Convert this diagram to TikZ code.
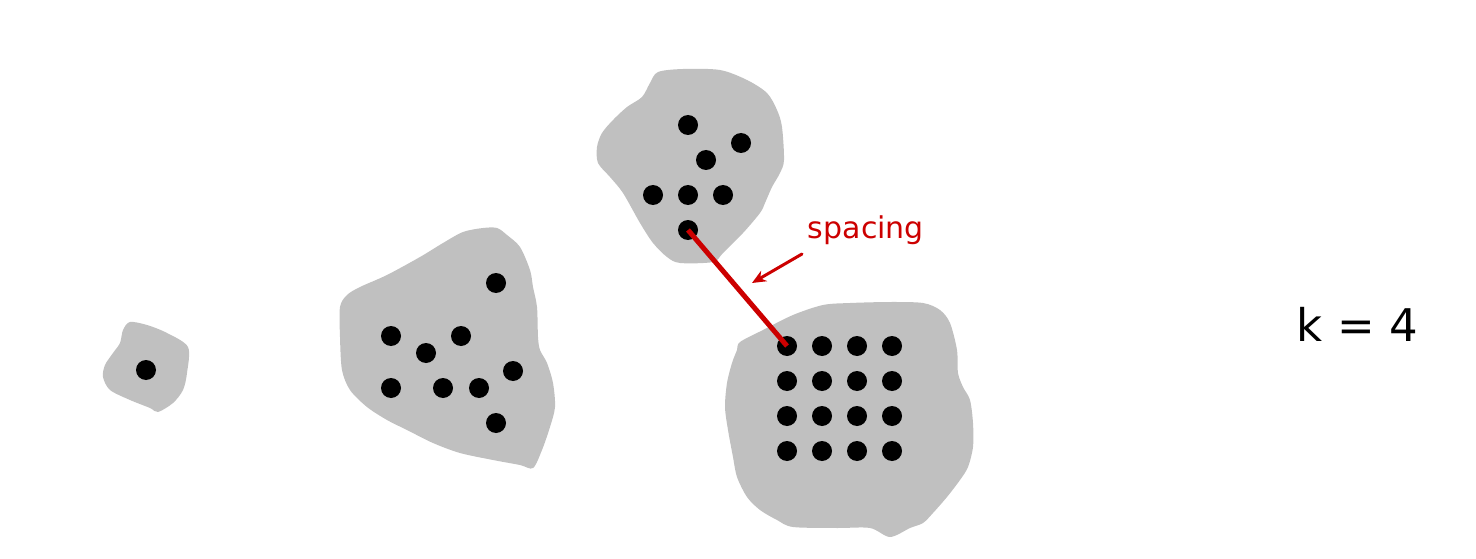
\documentclass[tikz,border=0pt]{standalone}
\usepackage{fontspec}
\setmainfont{DejaVu Sans}
\usetikzlibrary{arrows.meta}
\definecolor{blobgray}{RGB}{192,192,192}
\definecolor{spacered}{RGB}{204,0,0}
\tikzset{
	blob/.style={fill=blobgray},
	dot/.style={circle, fill=black, inner sep=0pt, minimum size=20pt},
}
\begin{document}
\begin{tikzpicture}[x=1pt, y=-1pt, line join=round, line cap=round, very thick]
			% Frame of the picture
			\useasboundingbox (0,0) rectangle (1476,559);
			
			% Grey regions (clusters), drawn first so the points sit on top
			\fill[blob] plot[smooth cycle, tension=0.5] coordinates {(130,322) (147,325) (167,333) (188,347) (187,373) (183,390) (173,403) (158,412) (150,408) (130,400) (110,390) (103,377) (105,365) (113,353) (120,343) (123,330)};
			\fill[blob] plot[smooth cycle, tension=0.5] coordinates {(483,228) (497,228) (507,235) (520,247) (530,270) (533,287) (537,307) (538,337) (540,350) (547,363) (553,383) (555,407) (550,427) (542,450) (533,468) (520,465) (493,460) (460,453) (433,443) (407,430) (387,420) (367,407) (350,390) (342,370) (340,337) (340,307) (347,295) (360,287) (387,275) (420,257) (443,243) (463,232)};
			\fill[blob] plot[smooth cycle, tension=0.5] coordinates {(658,72) (683,69) (720,70) (747,80) (767,93) (777,110) (782,127) (784,160) (780,173) (772,187) (765,203) (760,213) (743,233) (723,253) (713,262) (680,263) (667,257) (653,243) (640,223) (623,193) (610,177) (598,163) (597,147) (602,133) (613,120) (627,107) (642,97) (650,83)};
			\fill[blob] plot[smooth cycle, tension=0.5] coordinates {(740,342) (763,330) (793,315) (823,305) (850,303) (890,302) (923,303) (940,310) (950,323) (957,350) (958,373) (963,387) (970,400) (973,423) (973,447) (968,467) (960,480) (947,497) (933,513) (923,523) (910,528) (890,537) (870,528) (837,528) (793,527) (777,520) (760,510) (747,497) (737,477) (733,457) (728,430) (725,407) (727,383) (732,363) (737,350)};
			
			% Single point on the left
			\node[dot] (s1) at (146,370) {};
			
			% Scattered points
			\node[dot] (m1) at (496,283) {};
			\node[dot] (m2) at (391,336) {};
			\node[dot] (m3) at (461,336) {};
			\node[dot] (m4) at (426,353) {};
			\node[dot] (m5) at (513,371) {};
			\node[dot] (m6) at (391,388) {};
			\node[dot] (m7) at (443,388) {};
			\node[dot] (m8) at (479,388) {};
			\node[dot] (m9) at (496,423) {};
			
			% Top cluster
			\node[dot] (t1) at (688,125) {};
			\node[dot] (t2) at (741,143) {};
			\node[dot] (t3) at (706,160) {};
			\node[dot] (t4) at (653,195) {};
			\node[dot] (t5) at (688,195) {};
			\node[dot] (t6) at (723,195) {};
			\node[dot] (t7) at (688,230) {};
			
			% Regular grid of points
			\foreach \i in {1,...,4}
			\foreach \j in {1,...,4}
			\node[dot] (g\i\j) at ({752+35*\i},{311+35*\j}) {};
			
			% Spacing between the two closest clusters
			\draw[spacered, line width=5pt, line cap=butt] (t7.center) -- (g11.center);
			
			% Label and its arrow
			\node[spacered, font=\fontsize{30}{36}\selectfont, anchor=base west] (lbl) at (804,238) {spacing};
			\coordinate (arrtail) at (802,254);
			\coordinate (arrhead) at (752,283);
			\draw[spacered, line width=3pt, -{Stealth[length=14pt, width=12pt]}] (arrtail) -- (arrhead);
			
			% Number of clusters
			\node[font=\fontsize{45}{54}\selectfont, anchor=base west] (kval) at (1293,341) {k = 4};
			
		\end{tikzpicture}
\end{document}
